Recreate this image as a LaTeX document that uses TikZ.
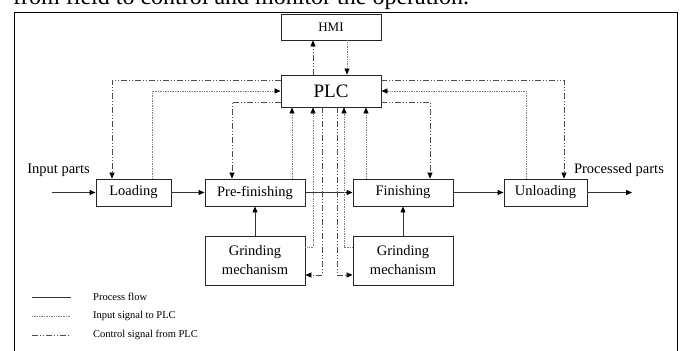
\documentclass[tikz,border=0pt]{standalone}
\usepackage{fontspec}
\setmainfont{Liberation Serif}
\usetikzlibrary{arrows.meta}
\begin{document}
\begin{tikzpicture}[x=1pt, y=-1pt,
  blk/.style={draw=black!85, line width=0.9pt, inner sep=0pt, align=center, font=\fontsize{14.5}{19}\selectfont},
  flow/.style={draw=black!80, line width=0.9pt, -{Triangle[length=6pt,width=5pt,color=black]}},
  insig/.style={draw=black!50, line width=0.7pt, densely dotted, -{Triangle[length=6pt,width=5pt,color=black]}},
  ctrl/.style={draw=black!70, line width=0.7pt, dash pattern=on 6pt off 2pt on 1pt off 2pt on 1pt off 2pt, -{Triangle[length=6pt,width=5pt,color=black]}},
  lgd/.style={anchor=west, inner sep=0pt, font=\fontsize{10.5}{12}\selectfont}]
  \useasboundingbox (0,0) rectangle (681,351);
  \clip (0,0) rectangle (681,351);
  \node[anchor=base west, inner sep=0pt, font=\fontsize{24}{28}\selectfont] (cap) at (13,4) {from field to control and monitor the operation.};
  \draw[line width=0.9pt] (14,12) rectangle (677,380);
  \node[blk, minimum width=100pt, minimum height=26pt, font=\fontsize{13}{15}\selectfont] (hmi) at (331,27) {HMI};
  \node[blk, minimum width=100pt, minimum height=32pt, font=\fontsize{19}{22}\selectfont] (plc) at (331,91) {PLC};
  \node[blk, minimum width=75pt, minimum height=27pt] (load) at (133.5,192.5) {Loading};
  \node[blk, minimum width=100pt, minimum height=27pt] (pre) at (255,192.5) {Pre-finishing};
  \node[blk, minimum width=100pt, minimum height=27pt] (fin) at (403,192.5) {Finishing};
  \node[blk, minimum width=83pt, minimum height=27pt] (unl) at (545.5,192.5) {Unloading};
  \node[blk, minimum width=100pt, minimum height=49pt] (grl) at (255,260.5) {Grinding\\mechanism};
  \node[blk, minimum width=100pt, minimum height=49pt] (grr) at (403,260.5) {Grinding\\mechanism};
  \node[inner sep=0pt, font=\fontsize{14.5}{17}\selectfont] (inlbl) at (58.5,170) {Input parts};
  \node[inner sep=0pt, font=\fontsize{14.5}{17}\selectfont] (outlbl) at (619,170) {Processed parts};
  \coordinate (inp) at (52,192.5);
  \coordinate (outp) at (632,192.5);
  \draw[flow] (inp) -- (load.west);
  \draw[flow] (load.east) -- (pre.west);
  \draw[flow] (pre.east) -- (fin.west);
  \draw[flow] (fin.east) -- (unl.west);
  \draw[flow] (unl.east) -- (outp);
  \draw[flow] (grl.north) -- (pre.south);
  \draw[flow] (grr.north) -- (fin.south);
  \draw[ctrl] ([xshift=-18pt]plc.north) -- ([xshift=-18pt]hmi.south);
  \draw[insig] ([xshift=16pt]hmi.south) -- ([xshift=16pt]plc.north);
  \draw[ctrl] ([yshift=11pt]plc.west) -| ([xshift=-21.5pt]load.north);
  \draw[insig] ([xshift=18.5pt]load.north) |- (plc.west);
  \draw[ctrl] ([yshift=-11pt]plc.west) -| ([xshift=-23pt]pre.north);
  \draw[insig] ([xshift=37pt]pre.north) -- ([xshift=-39pt]plc.south);
  \draw[ctrl] ([yshift=-11pt]plc.east) -| ([xshift=27pt]fin.north);
  \draw[insig] ([xshift=-37pt]fin.north) -- ([xshift=35pt]plc.south);
  \draw[ctrl] ([yshift=11pt]plc.east) -| ([xshift=18.5pt]unl.north);
  \draw[insig] ([xshift=-19.5pt]unl.north) |- (plc.east);
  \draw[insig] ([yshift=13.5pt]grl.east) -| ([xshift=-18pt]plc.south);
  \draw[ctrl] ([xshift=-9pt]plc.south) |- ([yshift=-14.5pt]grl.east);
  \draw[ctrl] ([xshift=6pt]plc.south) |- ([yshift=-14.5pt]grr.west);
  \draw[insig] ([yshift=13.5pt]grr.west) -| ([xshift=13pt]plc.south);
  \draw[draw=black!80, line width=0.9pt] (32,297) -- (71,297);
  \draw[draw=black!50, line width=0.7pt, densely dotted] (32,316) -- (71,316);
  \draw[draw=black!70, line width=0.7pt, dash pattern=on 6pt off 2pt on 1pt off 2pt on 1pt off 2pt] (32,335) -- (71,335);
  \node[lgd] (lgflow) at (93,297) {Process flow};
  \node[lgd] (lgin) at (93,316) {Input signal to PLC};
  \node[lgd] (lgctrl) at (93,335) {Control signal from PLC};
\end{tikzpicture}
\end{document}
